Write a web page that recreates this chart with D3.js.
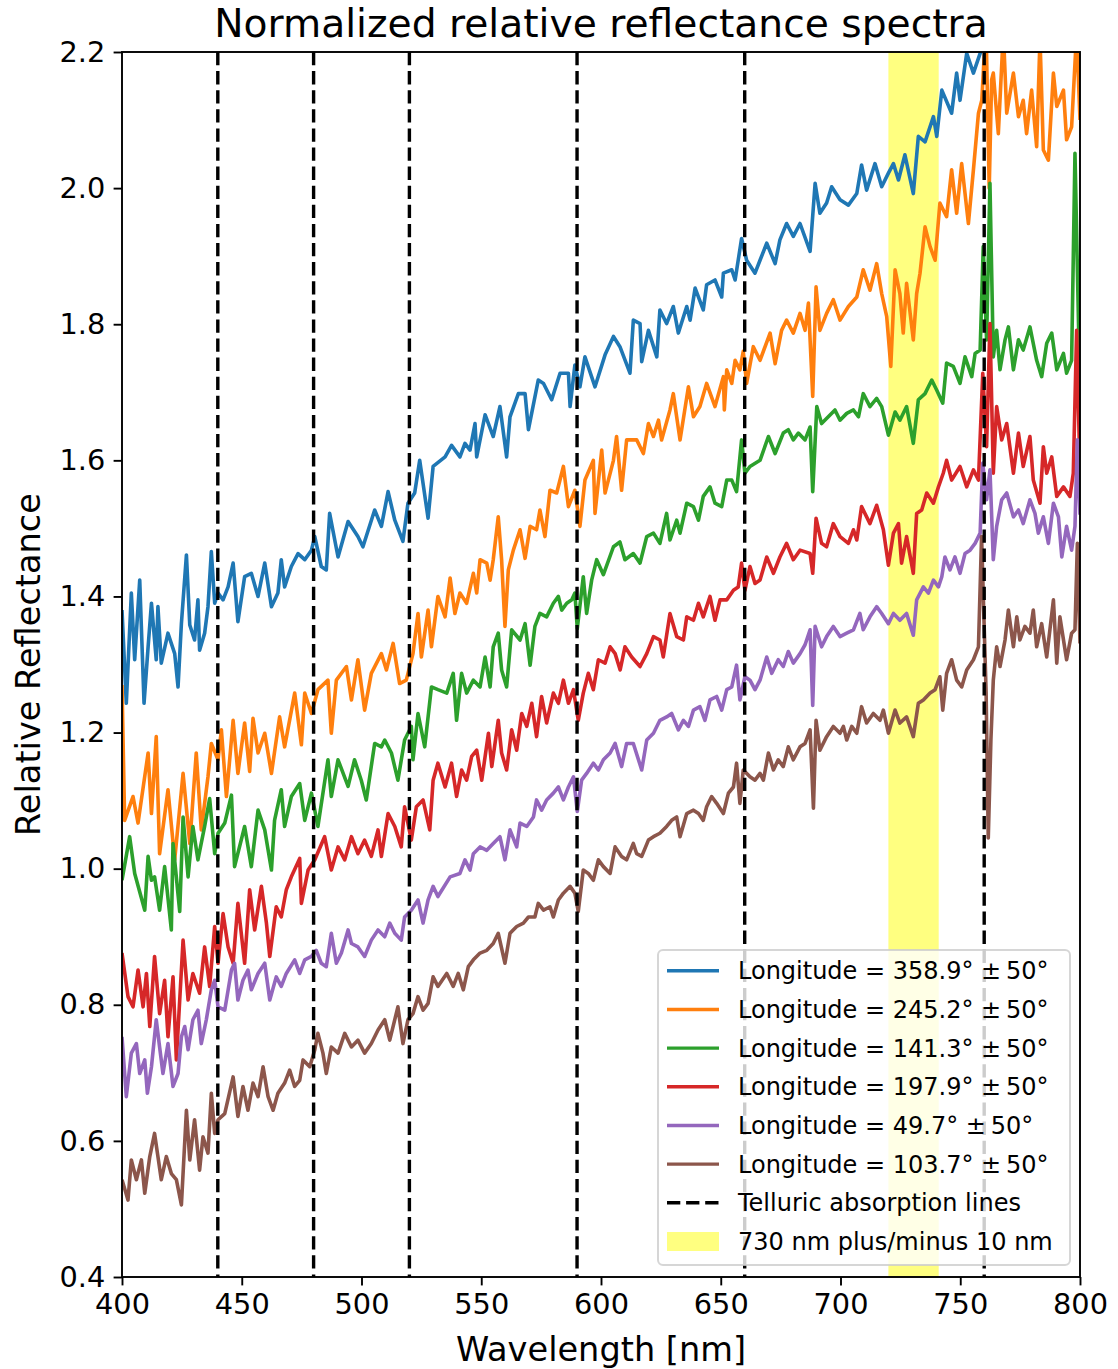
<!DOCTYPE html>
<html><head><meta charset="utf-8">
<script src="https://cdn.jsdelivr.net/npm/d3@7/dist/d3.min.js"></script>
<style>
body{margin:0;background:#fff}
svg{display:block}
text{font-family:"DejaVu Sans",sans-serif;fill:#000}
</style>
</head><body>
<svg id="chart" width="1118" height="1369"></svg>
<script>
// ---------------- data ----------------
const wavelengthTicks = [400,450,500,550,600,650,700,750,800];
const reflectanceTicks = [0.4,0.6,0.8,1.0,1.2,1.4,1.6,1.8,2.0,2.2];
const telluricLines = [440,480,520,590,660,760];
const highlightBand = [720,741];
const longitudes = ["358.9","245.2","141.3","197.9","49.7","103.7"];
const seriesColors = ["#1f77b4","#ff7f0e","#2ca02c","#d62728","#9467bd","#8c564b"];

const lon358_9 = [[400.0,1.380],[401.8,1.243],[403.9,1.405],[405.3,1.307],[407.4,1.424],[409.2,1.243],[410.9,1.326],[412.3,1.390],[414.3,1.307],[415.0,1.385],[416.4,1.302],[419.2,1.346],[422.0,1.316],[423.4,1.267],[424.8,1.360],[426.9,1.461],[428.3,1.358],[430.3,1.336],[431.7,1.395],[432.4,1.321],[434.5,1.346],[435.9,1.385],[437.3,1.466],[438.7,1.390],[440.1,1.405],[442.2,1.395],[444.3,1.414],[446.4,1.449],[448.4,1.363],[451.2,1.429],[454.0,1.434],[456.8,1.400],[459.6,1.449],[462.4,1.385],[465.1,1.405],[466.5,1.454],[467.9,1.414],[470.7,1.444],[473.5,1.463],[476.3,1.454],[479.1,1.468],[480.5,1.488],[483.2,1.444],[485.3,1.439],[486.7,1.522],[490.2,1.458],[494.4,1.510],[498.5,1.488],[500.6,1.473],[505.5,1.527],[508.3,1.503],[511.1,1.554],[513.9,1.512],[517.3,1.481],[519.4,1.537],[522.2,1.552],[524.3,1.600],[527.8,1.515],[529.9,1.591],[534.9,1.605],[537.6,1.622],[541.1,1.605],[543.2,1.625],[545.3,1.615],[547.4,1.654],[548.1,1.605],[551.6,1.667],[555.0,1.635],[557.8,1.679],[560.6,1.605],[562.0,1.664],[565.5,1.698],[568.3,1.698],[569.7,1.645],[573.8,1.718],[576.0,1.713],[579.4,1.689],[582.9,1.728],[586.4,1.728],[587.1,1.679],[589.1,1.740],[591.2,1.708],[593.3,1.752],[597.5,1.708],[601.7,1.755],[605.2,1.782],[607.9,1.767],[612.1,1.728],[613.5,1.806],[616.3,1.801],[617.0,1.745],[619.8,1.791],[623.3,1.752],[624.6,1.821],[627.4,1.801],[630.2,1.826],[632.3,1.787],[635.8,1.826],[637.2,1.806],[639.3,1.853],[642.7,1.821],[644.1,1.858],[647.6,1.865],[650.4,1.840],[651.1,1.875],[654.6,1.880],[656.0,1.865],[658.7,1.926],[660.8,1.894],[664.3,1.875],[666.4,1.894],[669.2,1.919],[672.7,1.889],[674.7,1.924],[677.5,1.948],[680.3,1.929],[683.1,1.948],[687.3,1.907],[689.4,2.007],[691.4,1.963],[694.2,1.978],[696.3,2.002],[699.8,1.983],[703.3,1.975],[706.8,1.992],[708.8,2.034],[710.9,1.997],[714.4,2.036],[717.2,2.002],[720.0,2.022],[722.1,2.036],[724.2,2.012],[726.9,2.049],[730.4,1.992],[732.5,2.076],[735.3,2.068],[738.8,2.105],[740.2,2.076],[742.3,2.144],[746.4,2.110],[748.5,2.169],[749.9,2.129],[752.7,2.198],[755.5,2.169],[758.3,2.198],[762.0,2.240],[770.0,2.300],[780.0,2.330],[790.0,2.320],[800.0,2.350]];

const lon245_2 = [[400.0,1.270],[401.1,1.071],[404.6,1.106],[406.7,1.067],[410.9,1.170],[412.3,1.081],[414.3,1.194],[415.7,1.022],[419.2,1.116],[422.0,1.013],[425.5,1.140],[428.3,1.037],[431.0,1.170],[433.1,1.057],[435.9,1.135],[437.3,1.184],[440.1,1.160],[441.5,1.204],[443.6,1.106],[446.4,1.218],[448.4,1.140],[451.2,1.214],[453.3,1.143],[454.7,1.221],[456.8,1.170],[459.6,1.199],[462.4,1.140],[465.8,1.223],[467.9,1.179],[472.1,1.258],[474.9,1.182],[476.3,1.258],[479.1,1.228],[481.8,1.263],[486.0,1.277],[487.4,1.199],[489.5,1.277],[493.7,1.297],[495.8,1.248],[498.5,1.307],[501.3,1.233],[504.1,1.287],[508.3,1.316],[510.4,1.292],[513.2,1.331],[515.9,1.272],[518.7,1.277],[521.5,1.316],[523.6,1.375],[525.0,1.311],[527.8,1.380],[529.2,1.326],[531.9,1.400],[534.9,1.370],[537.0,1.427],[539.0,1.375],[541.1,1.405],[543.9,1.390],[546.7,1.434],[548.1,1.405],[549.5,1.454],[552.3,1.449],[553.7,1.424],[555.0,1.454],[557.1,1.517],[558.5,1.454],[559.9,1.356],[561.3,1.439],[563.4,1.468],[566.2,1.498],[568.3,1.456],[570.4,1.503],[573.1,1.498],[574.5,1.527],[576.6,1.488],[578.7,1.556],[581.5,1.552],[584.3,1.591],[586.4,1.532],[589.1,1.556],[591.2,1.503],[593.3,1.571],[596.8,1.600],[597.5,1.522],[600.3,1.615],[601.7,1.552],[605.2,1.600],[606.5,1.635],[608.6,1.556],[610.7,1.630],[614.9,1.630],[617.7,1.610],[619.8,1.654],[621.9,1.635],[624.0,1.659],[625.3,1.630],[628.8,1.674],[630.2,1.698],[633.0,1.630],[636.5,1.708],[638.6,1.664],[641.3,1.679],[644.1,1.713],[647.6,1.679],[651.1,1.723],[651.5,1.674],[652.5,1.733],[654.6,1.713],[656.0,1.747],[658.0,1.733],[659.4,1.760],[660.8,1.713],[663.6,1.767],[666.4,1.747],[670.6,1.787],[672.7,1.742],[675.4,1.791],[677.5,1.806],[680.3,1.787],[683.1,1.816],[685.2,1.791],[686.6,1.831],[688.4,1.694],[689.8,1.855],[691.4,1.791],[694.2,1.816],[697.0,1.836],[699.8,1.806],[703.3,1.826],[706.8,1.840],[709.5,1.880],[712.3,1.850],[715.1,1.889],[717.2,1.845],[719.3,1.811],[721.0,1.738],[722.8,1.880],[724.8,1.845],[726.2,1.787],[727.6,1.860],[730.4,1.777],[731.8,1.845],[733.2,1.875],[735.3,1.943],[737.4,1.914],[739.5,1.894],[741.5,1.978],[744.3,1.958],[746.4,2.027],[748.5,1.963],[750.6,2.036],[753.4,1.948],[755.5,2.027],[757.6,2.110],[759.0,2.129],[759.9,2.188],[760.8,2.230],[762.1,2.000],[763.1,2.159],[763.8,2.169],[765.9,2.080],[768.0,2.230],[769.4,2.110],[772.2,2.169],[774.3,2.105],[776.3,2.129],[777.7,2.080],[779.8,2.144],[781.9,2.061],[783.3,2.220],[784.7,2.056],[786.8,2.041],[788.9,2.169],[790.3,2.120],[793.1,2.144],[794.4,2.071],[796.5,2.090],[798.6,2.230],[800.0,2.100]];

const lon141_3 = [[400.0,0.983],[403.2,1.047],[405.3,0.993],[409.5,0.939],[410.9,1.018],[412.3,0.983],[413.6,0.988],[415.7,0.939],[417.8,1.003],[420.6,0.910],[421.3,1.037],[424.1,0.937],[425.5,1.076],[427.6,0.988],[429.6,1.062],[431.7,1.013],[434.5,1.062],[436.6,1.103],[438.7,1.022],[440.1,1.052],[442.9,1.067],[445.7,1.108],[447.0,1.003],[451.2,1.062],[454.0,1.003],[456.8,1.086],[459.6,1.057],[462.4,0.998],[463.7,1.071],[466.5,1.116],[467.9,1.062],[470.7,1.106],[474.2,1.125],[476.3,1.071],[479.1,1.111],[481.8,1.062],[486.0,1.160],[487.4,1.106],[490.2,1.160],[494.4,1.121],[497.1,1.160],[499.9,1.130],[502.0,1.101],[505.5,1.184],[508.3,1.179],[509.7,1.189],[512.5,1.170],[515.2,1.130],[518.0,1.189],[520.8,1.209],[521.5,1.160],[523.6,1.228],[526.4,1.179],[529.2,1.267],[531.9,1.263],[535.6,1.258],[538.3,1.287],[539.7,1.218],[541.8,1.287],[543.9,1.258],[546.7,1.277],[549.5,1.267],[551.6,1.311],[553.7,1.267],[555.0,1.326],[557.1,1.346],[558.5,1.292],[560.6,1.267],[562.7,1.351],[566.2,1.336],[568.3,1.360],[570.4,1.299],[572.4,1.356],[574.5,1.375],[577.3,1.370],[580.1,1.390],[582.2,1.400],[583.6,1.380],[585.7,1.390],[587.8,1.395],[589.1,1.405],[590.1,1.353],[592.6,1.429],[594.0,1.375],[596.1,1.424],[598.2,1.454],[601.0,1.432],[605.2,1.473],[607.9,1.480],[610.0,1.454],[613.5,1.463],[616.3,1.449],[619.1,1.488],[621.9,1.493],[624.6,1.478],[627.4,1.522],[628.8,1.483],[631.6,1.512],[633.0,1.493],[635.8,1.537],[638.6,1.532],[640.7,1.512],[642.7,1.547],[645.5,1.561],[647.6,1.537],[650.4,1.532],[652.5,1.571],[654.6,1.571],[656.6,1.554],[658.7,1.630],[660.1,1.581],[662.2,1.591],[666.4,1.600],[669.9,1.635],[672.7,1.610],[676.1,1.640],[678.2,1.645],[680.3,1.630],[682.4,1.640],[685.2,1.630],[687.3,1.649],[688.4,1.554],[690.1,1.679],[692.1,1.654],[694.9,1.664],[697.7,1.674],[699.8,1.659],[702.6,1.669],[705.4,1.674],[707.5,1.664],[709.5,1.698],[712.3,1.679],[715.1,1.691],[717.2,1.679],[720.0,1.637],[722.8,1.671],[724.8,1.659],[727.6,1.679],[730.4,1.625],[732.5,1.689],[735.3,1.698],[738.1,1.718],[740.2,1.703],[742.7,1.684],[744.3,1.743],[747.1,1.738],[749.9,1.713],[752.0,1.752],[754.8,1.723],[756.2,1.757],[758.3,1.762],[759.6,1.914],[761.0,1.777],[762.4,2.007],[763.8,1.752],[765.2,1.791],[766.6,1.733],[768.7,1.777],[770.1,1.796],[772.2,1.733],[774.3,1.777],[776.3,1.762],[779.1,1.796],[781.9,1.747],[784.0,1.723],[786.1,1.772],[788.2,1.787],[790.3,1.733],[793.1,1.757],[794.4,1.728],[796.5,1.747],[797.9,2.051],[799.7,1.747]];

const lon197_9 = [[400.0,0.876],[402.5,0.812],[404.6,0.797],[406.7,0.851],[408.8,0.797],[410.2,0.846],[411.6,0.768],[413.6,0.871],[415.7,0.787],[417.8,0.836],[419.2,0.753],[421.3,0.841],[422.7,0.719],[425.5,0.895],[427.6,0.807],[429.6,0.846],[432.4,0.817],[434.5,0.885],[436.6,0.827],[438.7,0.915],[440.1,0.861],[442.2,0.934],[444.3,0.885],[446.4,0.861],[448.4,0.949],[451.2,0.861],[453.3,0.969],[455.4,0.910],[458.2,0.974],[460.3,0.920],[461.7,0.871],[464.4,0.944],[466.5,0.929],[468.6,0.969],[470.7,0.988],[474.2,1.015],[474.9,0.949],[477.7,0.998],[480.5,1.013],[484.6,1.047],[487.4,0.998],[490.2,1.032],[493.0,1.013],[495.8,1.047],[498.5,1.022],[501.3,1.042],[504.1,1.018],[506.9,1.057],[508.3,1.018],[511.1,1.081],[513.9,1.062],[516.6,1.032],[518.0,1.091],[520.8,1.042],[522.9,1.091],[525.7,1.101],[528.5,1.057],[529.9,1.130],[531.9,1.155],[534.9,1.120],[537.6,1.155],[539.7,1.106],[541.8,1.145],[543.9,1.130],[546.0,1.165],[548.1,1.174],[550.2,1.130],[553.0,1.199],[554.4,1.150],[557.1,1.218],[558.5,1.170],[560.6,1.145],[562.7,1.204],[564.8,1.174],[566.9,1.228],[569.0,1.209],[571.1,1.243],[573.1,1.194],[575.2,1.253],[577.3,1.214],[580.1,1.258],[582.2,1.243],[584.3,1.277],[586.4,1.243],[588.5,1.263],[590.5,1.218],[592.6,1.258],[594.7,1.287],[596.8,1.263],[598.9,1.307],[601.7,1.302],[603.8,1.326],[605.9,1.316],[608.0,1.292],[610.0,1.326],[612.8,1.311],[616.3,1.297],[619.1,1.316],[621.9,1.341],[624.6,1.336],[626.0,1.311],[628.8,1.375],[631.6,1.341],[634.4,1.336],[635.8,1.370],[638.6,1.365],[640.7,1.390],[642.7,1.370],[645.5,1.400],[647.6,1.365],[649.7,1.395],[652.5,1.395],[655.3,1.409],[657.3,1.414],[658.7,1.449],[660.1,1.409],[662.2,1.444],[664.3,1.419],[666.4,1.424],[669.2,1.458],[672.0,1.434],[674.7,1.458],[677.5,1.478],[680.3,1.454],[683.1,1.468],[687.3,1.463],[688.4,1.434],[689.8,1.515],[692.1,1.478],[694.2,1.473],[697.0,1.507],[699.8,1.488],[703.3,1.478],[705.4,1.498],[706.8,1.483],[708.8,1.532],[712.3,1.507],[715.1,1.534],[717.9,1.498],[720.0,1.446],[722.1,1.493],[724.2,1.507],[725.5,1.449],[727.6,1.488],[730.4,1.434],[731.8,1.522],[733.9,1.527],[736.0,1.552],[738.8,1.537],[740.9,1.561],[742.9,1.581],[744.3,1.600],[746.4,1.571],[749.9,1.591],[752.7,1.561],[755.5,1.586],[757.6,1.571],[759.4,1.728],[761.0,1.620],[762.4,1.801],[763.8,1.581],[765.2,1.679],[767.3,1.630],[769.4,1.654],[772.2,1.581],[774.3,1.640],[776.3,1.591],[779.1,1.635],[780.5,1.571],[783.3,1.537],[784.7,1.620],[786.1,1.581],[788.2,1.605],[790.3,1.547],[793.1,1.561],[795.8,1.547],[797.2,1.581],[798.6,1.791],[800.0,1.581]];

const lon49_7 = [[400.0,0.753],[401.8,0.665],[403.9,0.729],[406.0,0.743],[407.4,0.699],[409.5,0.719],[410.6,0.670],[412.3,0.709],[414.3,0.778],[415.7,0.738],[417.1,0.699],[419.2,0.743],[421.3,0.680],[423.4,0.699],[424.8,0.753],[426.2,0.768],[427.6,0.734],[429.6,0.778],[431.7,0.792],[433.1,0.743],[435.2,0.778],[437.3,0.822],[438.7,0.836],[440.1,0.797],[442.9,0.792],[445.7,0.851],[447.0,0.861],[448.4,0.807],[450.5,0.836],[452.6,0.851],[454.0,0.822],[456.8,0.846],[459.6,0.861],[461.7,0.807],[464.4,0.841],[466.5,0.827],[468.6,0.846],[472.1,0.866],[474.2,0.846],[476.3,0.866],[479.1,0.871],[481.1,0.880],[483.2,0.861],[485.3,0.856],[487.4,0.905],[489.5,0.861],[491.6,0.876],[494.4,0.910],[495.8,0.890],[498.5,0.885],[501.3,0.871],[504.1,0.895],[506.9,0.910],[509.7,0.900],[511.8,0.920],[513.9,0.905],[516.6,0.895],[518.0,0.929],[520.8,0.939],[523.6,0.954],[525.7,0.920],[527.8,0.954],[529.9,0.974],[531.9,0.959],[537.0,0.988],[541.1,0.993],[543.2,1.013],[545.3,0.998],[546.7,1.022],[549.5,1.032],[552.3,1.027],[555.0,1.037],[557.8,1.047],[559.9,1.013],[562.0,1.057],[564.8,1.032],[566.2,1.067],[569.0,1.062],[571.8,1.076],[573.1,1.101],[575.2,1.086],[577.3,1.101],[580.1,1.111],[582.2,1.120],[584.3,1.101],[586.4,1.120],[588.5,1.135],[590.1,1.084],[591.9,1.130],[594.0,1.140],[596.8,1.155],[598.9,1.145],[601.0,1.160],[603.8,1.170],[605.9,1.184],[608.6,1.150],[610.7,1.184],[613.5,1.184],[617.0,1.145],[619.1,1.189],[621.9,1.199],[624.6,1.218],[627.4,1.223],[629.5,1.228],[632.3,1.204],[634.4,1.218],[636.5,1.209],[638.6,1.233],[641.3,1.238],[643.4,1.218],[645.5,1.248],[648.3,1.253],[650.4,1.233],[652.5,1.263],[654.6,1.267],[656.6,1.299],[658.0,1.248],[660.1,1.282],[662.2,1.277],[664.3,1.263],[666.4,1.277],[669.2,1.311],[671.3,1.287],[674.0,1.307],[676.1,1.297],[678.2,1.319],[680.3,1.302],[683.1,1.316],[685.2,1.329],[687.3,1.351],[688.4,1.240],[689.4,1.356],[692.1,1.326],[694.2,1.341],[697.0,1.356],[699.8,1.341],[702.6,1.346],[705.4,1.351],[708.1,1.375],[709.5,1.351],[712.3,1.370],[715.1,1.385],[717.2,1.375],[720.0,1.360],[722.1,1.375],[724.8,1.365],[727.6,1.375],[730.4,1.343],[731.8,1.395],[734.6,1.414],[736.7,1.405],[738.8,1.424],[740.9,1.414],[742.3,1.429],[743.6,1.458],[745.7,1.439],[747.8,1.458],[749.9,1.434],[752.0,1.463],[754.1,1.468],[756.2,1.478],[758.3,1.493],[759.4,1.596],[761.0,1.542],[762.4,1.586],[763.8,1.454],[765.2,1.503],[767.3,1.542],[769.4,1.552],[772.2,1.517],[774.3,1.527],[776.3,1.507],[779.1,1.542],[781.2,1.522],[782.6,1.493],[784.7,1.517],[786.8,1.478],[788.9,1.537],[791.0,1.517],[792.4,1.458],[794.4,1.503],[796.5,1.468],[797.9,1.503],[798.9,1.630],[800.0,1.520]];

const lon103_7 = [[400.0,0.543],[402.5,0.513],[403.9,0.572],[406.0,0.543],[408.1,0.572],[409.5,0.523],[411.6,0.577],[413.6,0.611],[415.0,0.577],[416.4,0.543],[418.5,0.577],[420.6,0.552],[422.7,0.543],[424.8,0.506],[426.9,0.645],[428.3,0.572],[430.3,0.631],[432.4,0.557],[433.8,0.606],[435.9,0.582],[437.3,0.670],[438.7,0.611],[440.1,0.631],[442.9,0.640],[446.4,0.694],[448.4,0.636],[450.5,0.680],[452.6,0.645],[454.7,0.685],[456.8,0.665],[458.9,0.709],[461.0,0.665],[463.1,0.645],[465.1,0.670],[467.9,0.685],[470.0,0.704],[472.1,0.680],[474.2,0.689],[475.6,0.719],[478.4,0.709],[480.5,0.734],[481.8,0.758],[483.9,0.729],[485.3,0.699],[487.4,0.738],[490.2,0.729],[493.0,0.758],[495.8,0.738],[498.5,0.748],[501.3,0.729],[504.1,0.743],[506.9,0.763],[509.7,0.778],[511.8,0.748],[515.2,0.797],[517.3,0.743],[519.4,0.778],[521.5,0.787],[523.6,0.812],[525.7,0.792],[527.8,0.802],[529.9,0.841],[531.9,0.827],[535.6,0.846],[538.3,0.827],[540.4,0.846],[542.5,0.822],[544.6,0.856],[546.7,0.866],[549.5,0.876],[552.3,0.880],[555.0,0.890],[557.1,0.905],[559.9,0.861],[562.0,0.905],[564.8,0.915],[567.6,0.920],[569.7,0.929],[572.4,0.929],[573.8,0.949],[576.0,0.939],[578.7,0.944],[580.1,0.929],[582.2,0.954],[584.3,0.964],[587.1,0.974],[589.1,0.964],[590.5,0.937],[592.6,0.998],[594.7,0.993],[596.8,0.983],[598.9,1.013],[601.0,1.003],[603.8,0.993],[605.9,1.032],[608.6,1.018],[610.7,1.013],[613.5,1.037],[614.9,1.022],[617.0,1.018],[619.8,1.042],[621.9,1.047],[624.6,1.052],[627.4,1.062],[629.5,1.071],[631.6,1.076],[633.0,1.047],[635.8,1.081],[638.6,1.086],[640.7,1.081],[642.7,1.071],[644.1,1.091],[646.2,1.106],[648.3,1.096],[651.1,1.081],[653.2,1.111],[655.3,1.120],[656.6,1.155],[658.0,1.096],[659.4,1.145],[662.2,1.135],[664.3,1.130],[666.4,1.140],[667.8,1.130],[669.9,1.170],[672.0,1.145],[674.0,1.160],[676.1,1.150],[678.2,1.179],[680.3,1.160],[683.1,1.179],[685.2,1.184],[687.3,1.204],[688.7,1.089],[689.8,1.218],[691.4,1.174],[694.2,1.194],[697.0,1.209],[699.8,1.199],[701.2,1.209],[702.6,1.189],[704.7,1.209],[706.8,1.199],[708.8,1.238],[710.9,1.214],[713.7,1.228],[716.5,1.218],[717.9,1.233],[720.0,1.199],[722.8,1.233],[724.8,1.214],[727.6,1.223],[730.4,1.194],[732.5,1.243],[734.6,1.248],[737.4,1.258],[739.5,1.263],[741.5,1.282],[742.7,1.233],[744.3,1.287],[746.4,1.307],[748.5,1.277],[750.6,1.267],[752.7,1.292],[755.5,1.307],[757.6,1.326],[758.9,1.488],[760.8,1.258],[761.7,1.045],[762.8,1.189],[763.8,1.277],[765.2,1.326],[766.6,1.297],[768.7,1.336],[770.1,1.380],[772.2,1.326],[773.6,1.370],[774.9,1.336],[777.0,1.356],[779.1,1.346],[780.5,1.380],[781.9,1.326],[784.0,1.360],[786.1,1.311],[788.9,1.395],[790.3,1.302],[791.6,1.370],[794.4,1.307],[796.5,1.346],[797.9,1.351],[798.9,1.478],[800.0,1.331]];

const allSeries = [lon358_9, lon245_2, lon141_3, lon197_9, lon49_7, lon103_7];

// ---------------- drawing ----------------
const svg = d3.select("#chart");
const L = 122, R = 1080, T = 52, B = 1277;
const x = d3.scaleLinear().domain([400, 800]).range([L, R]);
const y = d3.scaleLinear().domain([0.4, 2.2]).range([B, T]);

svg.append("defs").append("clipPath").attr("id", "plotClip")
  .append("rect").attr("x", L).attr("y", T).attr("width", R - L).attr("height", B - T);

const plot = svg.append("g").attr("clip-path", "url(#plotClip)");

// highlighted band
plot.append("rect")
  .attr("x", x(highlightBand[0])).attr("y", T)
  .attr("width", x(highlightBand[1]) - x(highlightBand[0])).attr("height", B - T)
  .attr("fill", "#ffff80");

// spectra
const line = d3.line().x(d => x(d[0])).y(d => y(d[1]));
allSeries.forEach((s, i) => {
  plot.append("path").datum(s)
    .attr("d", line)
    .attr("fill", "none")
    .attr("stroke", seriesColors[i])
    .attr("stroke-width", 3.6)
    .attr("stroke-linejoin", "round");
});

// telluric lines
telluricLines.forEach(w => {
  plot.append("line")
    .attr("x1", x(w)).attr("x2", x(w))
    .attr("y1", T).attr("y2", B)
    .attr("stroke", "#000").attr("stroke-width", 3.4)
    .attr("stroke-dasharray", "13.3,5.8");
});

// axes
const xAxis = d3.axisBottom(x).tickValues(wavelengthTicks).tickSize(8.4).tickPadding(8.4).tickFormat(d3.format("d"));
const yAxis = d3.axisLeft(y).tickValues(reflectanceTicks).tickSize(8.4).tickPadding(8.4).tickFormat(d3.format(".1f"));

const gx = svg.append("g").attr("transform", `translate(0,${B})`).call(xAxis);
const gy = svg.append("g").attr("transform", `translate(${L},0)`).call(yAxis);
[gx, gy].forEach(g => {
  g.select(".domain").remove();
  g.selectAll(".tick line").attr("stroke", "#000").attr("stroke-width", 1.9);
  g.selectAll(".tick text").attr("font-size", 28.8).attr("font-family", "DejaVu Sans").attr("fill", "#000");
});

// frame
svg.append("rect")
  .attr("x", L).attr("y", T).attr("width", R - L).attr("height", B - T)
  .attr("fill", "none").attr("stroke", "#000").attr("stroke-width", 1.9);

// title and labels
svg.append("text").attr("x", (L + R) / 2).attr("y", 37)
  .attr("text-anchor", "middle").attr("font-size", 39.2)
  .text("Normalized relative reflectance spectra");
svg.append("text").attr("x", (L + R) / 2).attr("y", 1361)
  .attr("text-anchor", "middle").attr("font-size", 33.6)
  .text("Wavelength [nm]");
svg.append("text").attr("transform", `translate(40,${(T + B) / 2}) rotate(-90)`)
  .attr("text-anchor", "middle").attr("font-size", 33.6)
  .text("Relative Reflectance");

// legend
const lg = svg.append("g");
lg.append("rect").attr("x", 658).attr("y", 950).attr("width", 412).attr("height", 315)
  .attr("rx", 5).attr("fill", "#fff").attr("fill-opacity", 0.8)
  .attr("stroke", "#cccccc").attr("stroke-opacity", 0.8).attr("stroke-width", 2);
const rowBase = 979.3, rowStep = 38.67;
longitudes.forEach((lon, i) => {
  const cy = rowBase + i * rowStep - 8.5;
  lg.append("line").attr("x1", 667).attr("x2", 719).attr("y1", cy).attr("y2", cy)
    .attr("stroke", seriesColors[i]).attr("stroke-width", 3.4);
  lg.append("text").attr("x", 738).attr("y", rowBase + i * rowStep)
    .attr("font-size", 24).text(`Longitude = ${lon}° ±\u200950°`);
});
{
  const i = 6, cy = rowBase + i * rowStep - 8.5;
  lg.append("line").attr("x1", 667).attr("x2", 719).attr("y1", cy).attr("y2", cy)
    .attr("stroke", "#000").attr("stroke-width", 3.4).attr("stroke-dasharray", "13.3,5.8");
  lg.append("text").attr("x", 738).attr("y", rowBase + i * rowStep)
    .attr("font-size", 24).text("Telluric absorption lines");
}
{
  const i = 7, cy = rowBase + i * rowStep - 8.5;
  lg.append("rect").attr("x", 667).attr("y", cy - 9.5).attr("width", 52).attr("height", 19)
    .attr("fill", "#ffff80");
  lg.append("text").attr("x", 738).attr("y", rowBase + i * rowStep)
    .attr("font-size", 24).text("730 nm plus/minus 10 nm");
}
</script>
</body></html>
